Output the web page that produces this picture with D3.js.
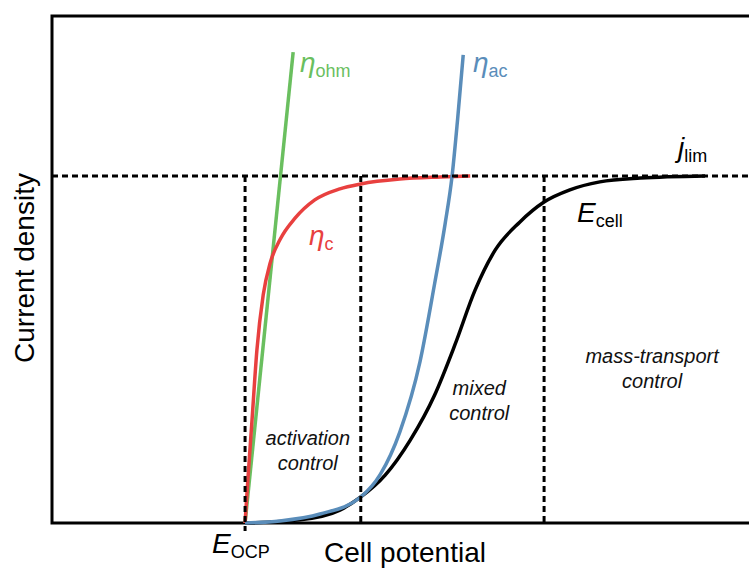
<!DOCTYPE html>
<html>
<head>
<meta charset="utf-8">
<script src="https://cdn.jsdelivr.net/npm/d3@7"></script>
<style>
  body { margin: 0; background: #fff; }
  text { font-family: "Liberation Sans", Arial, sans-serif; }
</style>
</head>
<body>
<div id="chart"></div>
<script>
// potential (arbitrary units) and current density (j / j_lim)
const eOcp = 27.7;
const regionBounds = [27.7, 44.3, 70.6];   // vertical dashed lines
const jLim = 1.0;

const ohmX = [27.7, 34.6];
const ohmY = [0, 1.357];

const actX = [27.7, 28.1, 28.7, 29.4, 30.3, 31.3, 32.7, 34.9, 37.7, 41.3, 44.3, 49.9, 55.7, 60.0];
const actY = [0, 0.124, 0.297, 0.499, 0.657, 0.749, 0.816, 0.879, 0.931, 0.963, 0.977, 0.991, 0.997, 1.0];

const acX = [27.7, 32.7, 38.45, 44.3, 47.1, 49.9, 52.8, 54.9, 56.4, 57.4, 58.2, 59.0];
const acY = [0, 0.006, 0.026, 0.075, 0.140, 0.262, 0.465, 0.690, 0.862, 1.0, 1.165, 1.349];

const cellX = [27.7, 35.6, 41.3, 44.3, 47.8, 51.4, 54.9, 57.8, 60.7, 63.6, 67.1, 70.6, 74.3, 78.6, 84.4, 93.7];
const cellY = [0, 0.009, 0.037, 0.075, 0.138, 0.239, 0.369, 0.513, 0.671, 0.787, 0.867, 0.925, 0.960, 0.983, 0.994, 1.0];

const regionLabels = [
    { x: 36.7, lines: ["activation", "control"], y: 0.225 },
    { x: 61.3, lines: ["mixed", "control"], y: 0.37 },
    { x: 86.1, lines: ["mass-transport", "control"], y: 0.461 }
];

const width = 749, height = 569;
const margin = { left: 52, top: 16, right: 0, bottom: 46 };

const svg = d3.select("#chart").append("svg")
    .attr("width", width)
    .attr("height", height);

const x = d3.scaleLinear().domain([0, 100]).range([margin.left, 749]);
const y = d3.scaleLinear().domain([0, 1.461]).range([height - margin.bottom, margin.top]);

const zip = (xs, ys) => xs.map((v, i) => [v, ys[i]]);
const line = d3.line()
    .x(d => x(d[0]))
    .y(d => y(d[1]))
    .curve(d3.curveMonotoneX);

// frame
const yTop = y.range()[1], yBot = y.range()[0];
svg.append("path")
    .attr("d", `M${width + 5},${yTop}H${x(0)}V${yBot}H${width + 5}`)
    .attr("fill", "none")
    .attr("stroke", "#000")
    .attr("stroke-width", 3);

// curves
const curves = [
    { data: zip(cellX, cellY), color: "#000000" },
    { data: zip(ohmX, ohmY), color: "#6abf5f" },
    { data: zip(actX, actY), color: "#e8403f" },
    { data: zip(acX, acY), color: "#5a8dba" }
];
svg.selectAll(".curve")
    .data(curves)
    .enter()
    .append("path")
    .attr("class", "curve")
    .attr("d", d => line(d.data))
    .attr("fill", "none")
    .attr("stroke", d => d.color)
    .attr("stroke-width", 3.5);

// dashed guides
svg.append("line")
    .attr("x1", x(0)).attr("x2", width)
    .attr("y1", y(jLim)).attr("y2", y(jLim))
    .attr("stroke", "#000").attr("stroke-width", 3)
    .attr("stroke-dasharray", "6,4");

svg.selectAll(".vguide")
    .data(regionBounds)
    .enter()
    .append("line")
    .attr("class", "vguide")
    .attr("x1", d => x(d)).attr("x2", d => x(d))
    .attr("y1", y(jLim))
    .attr("y2", (d, i) => i === 0 ? yBot + 8 : yBot)
    .attr("stroke", "#000").attr("stroke-width", 3)
    .attr("stroke-dasharray", "6,4");

// region labels
regionLabels.forEach(r => {
    const t = svg.append("text")
        .attr("x", x(r.x))
        .attr("y", y(r.y))
        .attr("text-anchor", "middle")
        .attr("font-size", 20)
        .attr("font-style", "italic")
        .attr("fill", "#111");
    r.lines.forEach((s, i) => {
        t.append("tspan").attr("x", x(r.x)).attr("dy", i === 0 ? 0 : 25).text(s);
    });
});

// symbol labels with subscripts
function symLabel(px, py, main, sub, color) {
    const t = svg.append("text")
        .attr("x", px).attr("y", py)
        .attr("fill", color)
        .attr("font-size", 28);
    t.append("tspan").attr("font-style", "italic").text(main);
    t.append("tspan").attr("font-size", 18).attr("dy", 5).text(sub);
}
symLabel(300, 72, "η", "ohm", "#6abf5f");
symLabel(473, 72, "η", "ac", "#5a8dba");
symLabel(309, 245, "η", "c", "#e8403f");
symLabel(678, 157, "j", "lim", "#000");
symLabel(577, 222, "E", "cell", "#000");
symLabel(212, 553, "E", "OCP", "#000");

// axis titles
svg.append("text")
    .attr("x", 405).attr("y", 562)
    .attr("text-anchor", "middle")
    .attr("font-size", 28)
    .text("Cell potential");

svg.append("text")
    .attr("transform", "translate(34,268) rotate(-90)")
    .attr("text-anchor", "middle")
    .attr("font-size", 28)
    .text("Current density");
</script>
</body>
</html>
